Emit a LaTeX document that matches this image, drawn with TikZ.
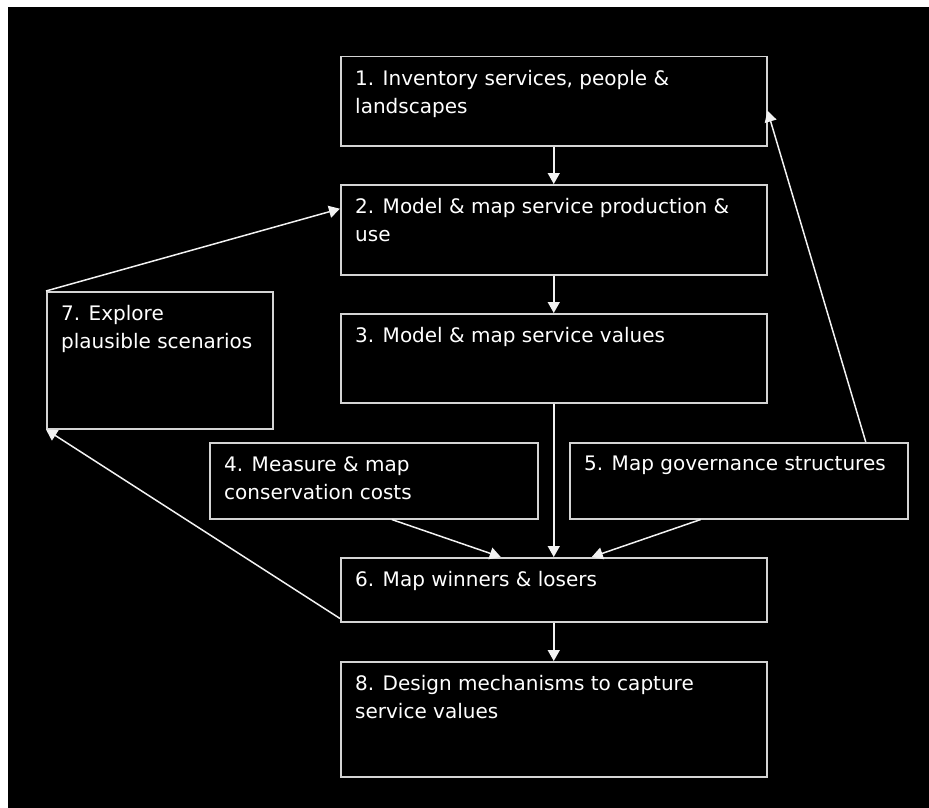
\documentclass[tikz,border=0pt]{standalone}
\usepackage{fontspec}
\setmainfont{DejaVu Sans}
\usepackage{tikz}
\usetikzlibrary{arrows.meta}
\definecolor{sfondo}{HTML}{000000}
\definecolor{bordo}{HTML}{D4D4D4}
\definecolor{linea}{HTML}{F2F2F2}

\begin{document}
\begin{tikzpicture}[x=1pt, y=-1pt,
    riquadro/.style={draw=bordo, line width=1.5pt, anchor=north west, inner sep=0pt},
    testo/.style={anchor=north west, align=left, text=white, inner xsep=15pt, inner ysep=14pt,
        font=\fontsize{20}{28}\selectfont},
    freccia/.style={draw=linea, line width=1.5pt, -{Triangle[length=11pt,width=12pt]}}]
    % Sfondo
    \useasboundingbox (0,0) rectangle (929,808);
    \fill[white] (0,0) rectangle (929,808);
    \fill[sfondo] (8,7) rectangle (929,808);
    % Riquadri
    \node[riquadro, minimum width=426, minimum height=89] (inv) at (340,56) {};
    \node[riquadro, minimum width=426, minimum height=90] (model) at (340,184) {};
    \node[riquadro, minimum width=426, minimum height=89] (val) at (340,313) {};
    \node[riquadro, minimum width=226, minimum height=137] (scen) at (46,291) {};
    \node[riquadro, minimum width=328, minimum height=76] (cost) at (209,442) {};
    \node[riquadro, minimum width=338, minimum height=76] (gov) at (569,442) {};
    \node[riquadro, minimum width=426, minimum height=64] (vinc) at (340,557) {};
    \node[riquadro, minimum width=426, minimum height=115] (mecc) at (340,661) {};
    % Testi
    \node[testo] (tinv) at (inv.north west) {1. Inventory services, people \&\\landscapes};
    \node[testo] (tmodel) at (model.north west) {2. Model \& map service production \&\\use};
    \node[testo] (tval) at (val.north west) {3. Model \& map service values};
    \node[testo] (tscen) at (scen.north west) {7. Explore\\plausible scenarios};
    \node[testo] (tcost) at (cost.north west) {4. Measure \& map\\conservation costs};
    \node[testo] (tgov) at (gov.north west) {5. Map governance structures};
    \node[testo] (tvinc) at (vinc.north west) {6. Map winners \& losers};
    \node[testo] (tmecc) at (mecc.north west) {8. Design mechanisms to capture\\service values};
    % Frecce verticali
    \draw[freccia] (inv) -- (model);
    \draw[freccia] (model) -- (val);
    \draw[freccia] (val) -- (vinc);
    \draw[freccia] (vinc) -- (mecc);
    % Frecce oblique
    \draw[freccia] ([xshift=18pt]cost.south) -- ([xshift=-53pt]vinc.north);
    \draw[freccia] ([xshift=-38pt]gov.south) -- ([xshift=38pt]vinc.north);
    \draw[freccia] ([xshift=127pt]gov.north) -- ([yshift=-9.5pt]inv.east);
    \draw[freccia] ([yshift=4pt]vinc.south west) -- (scen.south west);
    \draw[freccia] (scen.north west) -- ([yshift=21pt]model.west);
\end{tikzpicture}
\end{document}
